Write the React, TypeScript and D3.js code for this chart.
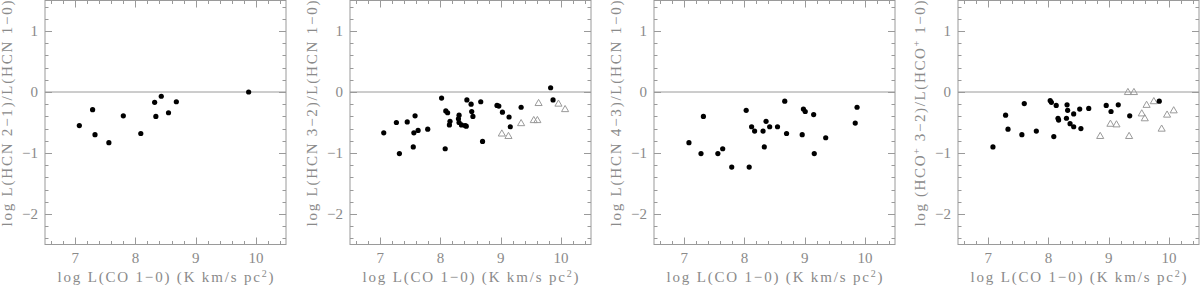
import React from 'react';
import * as d3 from 'd3';

type Pt = [number, number];

// x: log L(CO 1-0), y: log line ratio
const hcn21: Pt[] = [
  [7.07, -0.55], [7.29, -0.29], [7.33, -0.7], [7.56, -0.83], [7.8, -0.39], [8.09, -0.68],
  [8.32, -0.17], [8.34, -0.4], [8.43, -0.07], [8.55, -0.34], [8.68, -0.16], [9.88, 0.0],
];

const hcn32: Pt[] = [
  [7.06, -0.67], [7.27, -0.5], [7.32, -1.01], [7.45, -0.49], [7.58, -0.39], [7.55, -0.9],
  [7.56, -0.67], [7.63, -0.63], [7.79, -0.61], [8.02, -0.1], [8.08, -0.93], [8.09, -0.31],
  [8.12, -0.34], [8.16, -0.48], [8.15, -0.54], [8.31, -0.38], [8.3, -0.44], [8.31, -0.5],
  [8.35, -0.54], [8.41, -0.55], [8.43, -0.56], [8.44, -0.13], [8.51, -0.2], [8.52, -0.32],
  [8.54, -0.4], [8.67, -0.16], [8.7, -0.81], [8.94, -0.22], [8.97, -0.23], [9.03, -0.33],
  [9.14, -0.41], [9.16, -0.57], [9.34, -0.25], [9.83, 0.07], [9.87, -0.13],
];
const hcn32Tri: Pt[] = [
  [9.02, -0.68], [9.13, -0.72], [9.34, -0.51], [9.55, -0.46], [9.61, -0.46], [9.63, -0.18],
  [9.96, -0.19], [10.07, -0.28],
];

const hcn43: Pt[] = [
  [7.08, -0.83], [7.28, -1.01], [7.32, -0.4], [7.56, -1.01], [7.64, -0.93], [7.79, -1.23],
  [8.03, -0.3], [8.08, -1.23], [8.12, -0.57], [8.17, -0.64], [8.31, -0.64], [8.33, -0.9],
  [8.36, -0.48], [8.42, -0.57], [8.55, -0.57], [8.67, -0.15], [8.7, -0.68], [8.96, -0.7],
  [8.98, -0.28], [9.01, -0.32], [9.15, -0.37], [9.16, -1.01], [9.35, -0.75], [9.84, -0.51],
  [9.87, -0.25],
];

const hco32: Pt[] = [
  [7.08, -0.9], [7.29, -0.38], [7.33, -0.61], [7.56, -0.7], [7.6, -0.19], [7.8, -0.64],
  [8.03, -0.14], [8.05, -0.17], [8.09, -0.73], [8.13, -0.22], [8.16, -0.43], [8.17, -0.46],
  [8.31, -0.21], [8.32, -0.3], [8.3, -0.43], [8.36, -0.52], [8.42, -0.36], [8.42, -0.57],
  [8.52, -0.28], [8.54, -0.6], [8.67, -0.27], [8.96, -0.22], [9.04, -0.32], [9.16, -0.21],
  [9.35, -0.39], [9.84, -0.15],
];
const hco32Tri: Pt[] = [
  [8.86, -0.72], [9.03, -0.52], [9.13, -0.53], [9.32, 0.0], [9.42, 0.0], [9.34, -0.72],
  [9.55, -0.35], [9.6, -0.43], [9.63, -0.21], [9.75, -0.15], [9.88, -0.6], [9.97, -0.37],
  [10.08, -0.3],
];

const xTicks = [7, 8, 9, 10];
const yTicks = [-2, -1, 0, 1];

const panelLeft = [45, 350, 654, 958];
const W = 241;
const TOP = 0.5;
const BOTTOM = 244.5;
const GREY = '#9a9a9a';
const TEXT = '#8a8a8a';
const FONT = '"Liberation Serif", "DejaVu Serif", serif';

const Sup = ({ children }: { children: string }) => (
  <tspan baselineShift="super" fontSize="10">{children}</tspan>
);

const labels: React.ReactNode[] = [
  <>log L(HCN 2−1)/L(HCN 1−0)</>,
  <>log L(HCN 3−2)/L(HCN 1−0)</>,
  <>log L(HCN 4−3)/L(HCN 1−0)</>,
  <>log (HCO<Sup>+</Sup> 3−2)/L(HCO<Sup>+</Sup> 1−0)</>,
];

const Panel = ({ left, dots, tris, label }: { left: number; dots: Pt[]; tris: Pt[]; label: React.ReactNode }) => {
  const x = d3.scaleLinear().domain([6.5, 10.5]).range([left, left + W]);
  const y = d3.scaleLinear().domain([-2.5, 1.5]).range([BOTTOM, TOP]);
  const xMinor = d3.range(6.6, 10.5, 0.2);
  const yMinor = d3.range(-2.4, 1.5, 0.2);
  const isMajor = (v: number) => Math.abs(v - Math.round(v)) < 1e-6;
  const tri = d3.symbol().type(d3.symbolTriangle).size(22);
  const midY = (TOP + BOTTOM) / 2;
  return (
    <g>
      <rect x={left} y={TOP} width={W} height={BOTTOM - TOP} fill="none" stroke={GREY} strokeWidth={1} />
      <line x1={left} x2={left + W} y1={y(0)} y2={y(0)} stroke={GREY} strokeWidth={1} />
      {xMinor.map((v, i) => {
        const L = isMajor(v) ? 7 : 3.5;
        const px = Math.round(x(v)) + 0.5;
        return (
          <g key={'xt' + i} stroke={GREY}>
            <line x1={px} x2={px} y1={BOTTOM} y2={BOTTOM - L} />
            <line x1={px} x2={px} y1={TOP} y2={TOP + L} />
          </g>
        );
      })}
      {yMinor.map((v, i) => {
        const L = isMajor(v) ? 7 : 3.5;
        const py = Math.round(y(v)) + 0.5;
        return (
          <g key={'yt' + i} stroke={GREY}>
            <line x1={left} x2={left + L} y1={py} y2={py} />
            <line x1={left + W} x2={left + W - L} y1={py} y2={py} />
          </g>
        );
      })}
      {xTicks.map((t) => (
        <text key={'xl' + t} x={x(t)} y={263} textAnchor="middle" fontSize={15} fill={TEXT} fontFamily={FONT}>
          {t}
        </text>
      ))}
      {yTicks.map((t) => (
        <text key={'yl' + t} x={left - 7} y={y(t) + 5} textAnchor="end" fontSize={15} fill={TEXT} fontFamily={FONT}>
          {t < 0 ? '−' + Math.abs(t) : t}
        </text>
      ))}
      <text
        x={left + W / 2}
        y={282}
        textAnchor="middle"
        fontSize={15}
        fill={TEXT}
        fontFamily={FONT}
        textLength={216}
        lengthAdjust="spacing"
      >
        log L(CO 1−0) (K km/s pc<Sup>2</Sup>)
      </text>
      <text
        transform={`translate(${left - 33},${midY - 9}) rotate(-90)`}
        textAnchor="middle"
        fontSize={15}
        fill={TEXT}
        fontFamily={FONT}
        textLength={226}
        lengthAdjust="spacing"
      >
        {label}
      </text>
      {tris.map((d, i) => (
        <path
          key={'tr' + i}
          d={tri() as string}
          transform={`translate(${x(d[0])},${y(d[1]) + 0.5})`}
          fill="none"
          stroke={GREY}
          strokeWidth={1}
        />
      ))}
      {dots.map((d, i) => (
        <circle key={'pt' + i} cx={x(d[0])} cy={y(d[1])} r={2.6} fill="#000" />
      ))}
    </g>
  );
};

export default function App() {
  const sets: [Pt[], Pt[]][] = [
    [hcn21, []],
    [hcn32, hcn32Tri],
    [hcn43, []],
    [hco32, hco32Tri],
  ];
  return (
    <svg width={1200} height={285} style={{ position: 'absolute', left: 0, top: 0, background: '#fff' }}>
      {sets.map(([dots, tris], i) => (
        <Panel key={i} left={panelLeft[i]} dots={dots} tris={tris} label={labels[i]} />
      ))}
    </svg>
  );
}
